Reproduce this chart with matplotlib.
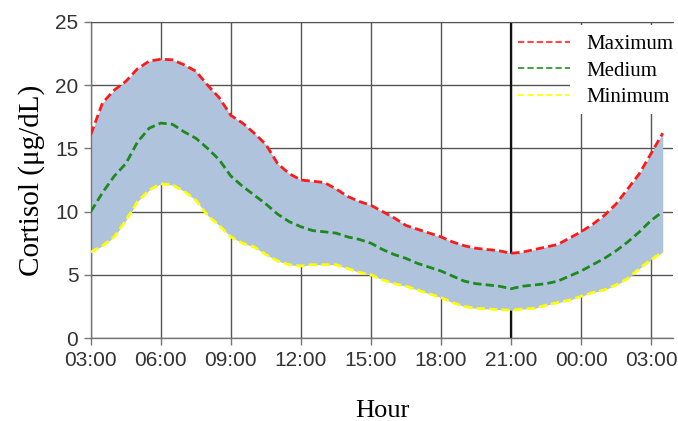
import matplotlib
matplotlib.use("Agg")
import matplotlib.pyplot as plt
from matplotlib.patches import Rectangle

# Hours since midnight of the first day (03:00 .. 03:30 next day)
hours = [3.0, 3.5, 4.0, 4.5, 5.0, 5.5, 6.0, 6.5, 7.0, 7.5,
         8.0, 8.5, 9.0, 9.5, 10.0, 10.5, 11.0, 11.5, 12.0, 12.5,
         13.0, 13.5, 14.0, 14.5, 15.0, 15.5, 16.0, 16.5, 17.0, 17.5,
         18.0, 18.5, 19.0, 19.5, 20.0, 20.5, 21.0, 21.5, 22.0, 22.5,
         23.0, 23.5, 24.0, 24.5, 25.0, 25.5, 26.0, 26.5, 27.0, 27.5]

maximum = [16.1, 18.6, 19.6, 20.3, 21.3, 21.9, 22.05, 22.0, 21.6, 21.1,
           20.0, 19.0, 17.6, 17.0, 16.2, 15.3, 13.8, 13.0, 12.5, 12.4,
           12.3, 11.8, 11.2, 10.8, 10.5, 10.0, 9.5, 8.9, 8.6, 8.3,
           8.0, 7.6, 7.3, 7.1, 7.0, 6.9, 6.7, 6.8, 7.0, 7.2,
           7.4, 7.9, 8.4, 9.0, 9.7, 10.6, 11.8, 13.0, 14.6, 16.2]

medium = [10.0, 11.5, 12.8, 13.8, 15.5, 16.6, 17.0, 16.9, 16.3, 15.8,
          15.0, 14.1, 12.8, 12.0, 11.3, 10.6, 9.8, 9.2, 8.8, 8.5,
          8.4, 8.3, 8.0, 7.8, 7.5, 7.0, 6.6, 6.3, 5.9, 5.6,
          5.3, 4.9, 4.5, 4.3, 4.2, 4.1, 3.9, 4.1, 4.2, 4.3,
          4.5, 4.9, 5.3, 5.8, 6.3, 6.9, 7.6, 8.4, 9.3, 10.0]

minimum = [6.8, 7.3, 8.0, 9.3, 10.8, 11.7, 12.2, 12.1, 11.6, 10.9,
           9.7, 8.9, 8.0, 7.5, 7.2, 6.6, 6.1, 5.8, 5.7, 5.8,
           5.8, 5.8, 5.5, 5.2, 5.0, 4.6, 4.3, 4.1, 3.8, 3.5,
           3.2, 2.8, 2.5, 2.35, 2.3, 2.25, 2.2, 2.3, 2.35, 2.6,
           2.8, 3.0, 3.3, 3.6, 3.8, 4.2, 4.7, 5.5, 6.2, 6.8]

tick_hours = [3, 6, 9, 12, 15, 18, 21, 24, 27]
tick_labels = ["03:00", "06:00", "09:00", "12:00", "15:00",
               "18:00", "21:00", "00:00", "03:00"]
y_ticks = [0, 5, 10, 15, 20, 25]

fig = plt.figure(figsize=(6.78, 4.21), dpi=100)
ax = fig.add_axes([0.134, 0.197, 0.859, 0.751])

# Band between minimum and maximum
ax.fill_between(hours, minimum, maximum, color="#afc3dd", linewidth=0, zorder=2)

dash = (3, 1.5)
ax.plot(hours, maximum, color="#ff1a1a", lw=2, dashes=dash, label="Maximum", zorder=3)
ax.plot(hours, medium, color="#1e8a1e", lw=2, dashes=dash, label="Medium", zorder=3)
ax.plot(hours, minimum, color="#ffff00", lw=2, dashes=dash, label="Minimum", zorder=3)

ax.set_xlim(3, 27.95)
ax.set_ylim(0, 25)
ax.set_xticks(tick_hours)
ax.set_xticklabels(tick_labels)
ax.set_yticks(y_ticks)

# Grid, with a stronger line at 21:00
ax.grid(True, color="#555555", linewidth=1.0, zorder=1)
ax.set_axisbelow(True)
ax.axvline(21, color="#111111", linewidth=1.6, zorder=1)

ax.spines["right"].set_visible(False)
ax.spines["top"].set_color("#555555")
for side in ["left", "bottom"]:
    ax.spines[side].set_color("#777777")
    ax.spines[side].set_linewidth(1.0)

ax.tick_params(axis="both", colors="#777777", length=5, width=1,
               labelcolor="#333333", labelsize=15, pad=4)
for lab in ax.get_xticklabels() + ax.get_yticklabels():
    lab.set_family("Liberation Sans")

ax.set_ylabel("Cortisol (μg/dL)", family="Liberation Serif", fontsize=21, labelpad=7)
ax.set_xlabel("Hour", family="Liberation Serif", fontsize=19, labelpad=22)

# white patch behind the legend text (hides grid there)
ax.add_patch(Rectangle((0.822, 0.71), 0.178, 0.28, transform=ax.transAxes,
                       facecolor="white", edgecolor="none", zorder=1.5))

leg = ax.legend(loc="upper right", bbox_to_anchor=(1.0, 0.96), frameon=False,
                prop={"family": "Liberation Serif", "size": 15},
                handlelength=2.5, borderpad=0.0, labelspacing=0.33,
                borderaxespad=0.0, handletextpad=0.8)
leg.set_zorder(5)
for line in leg.get_lines():
    line.set_linewidth(1.5)
    line.set_alpha(0.8)

plt.savefig("out.png", dpi=100)
